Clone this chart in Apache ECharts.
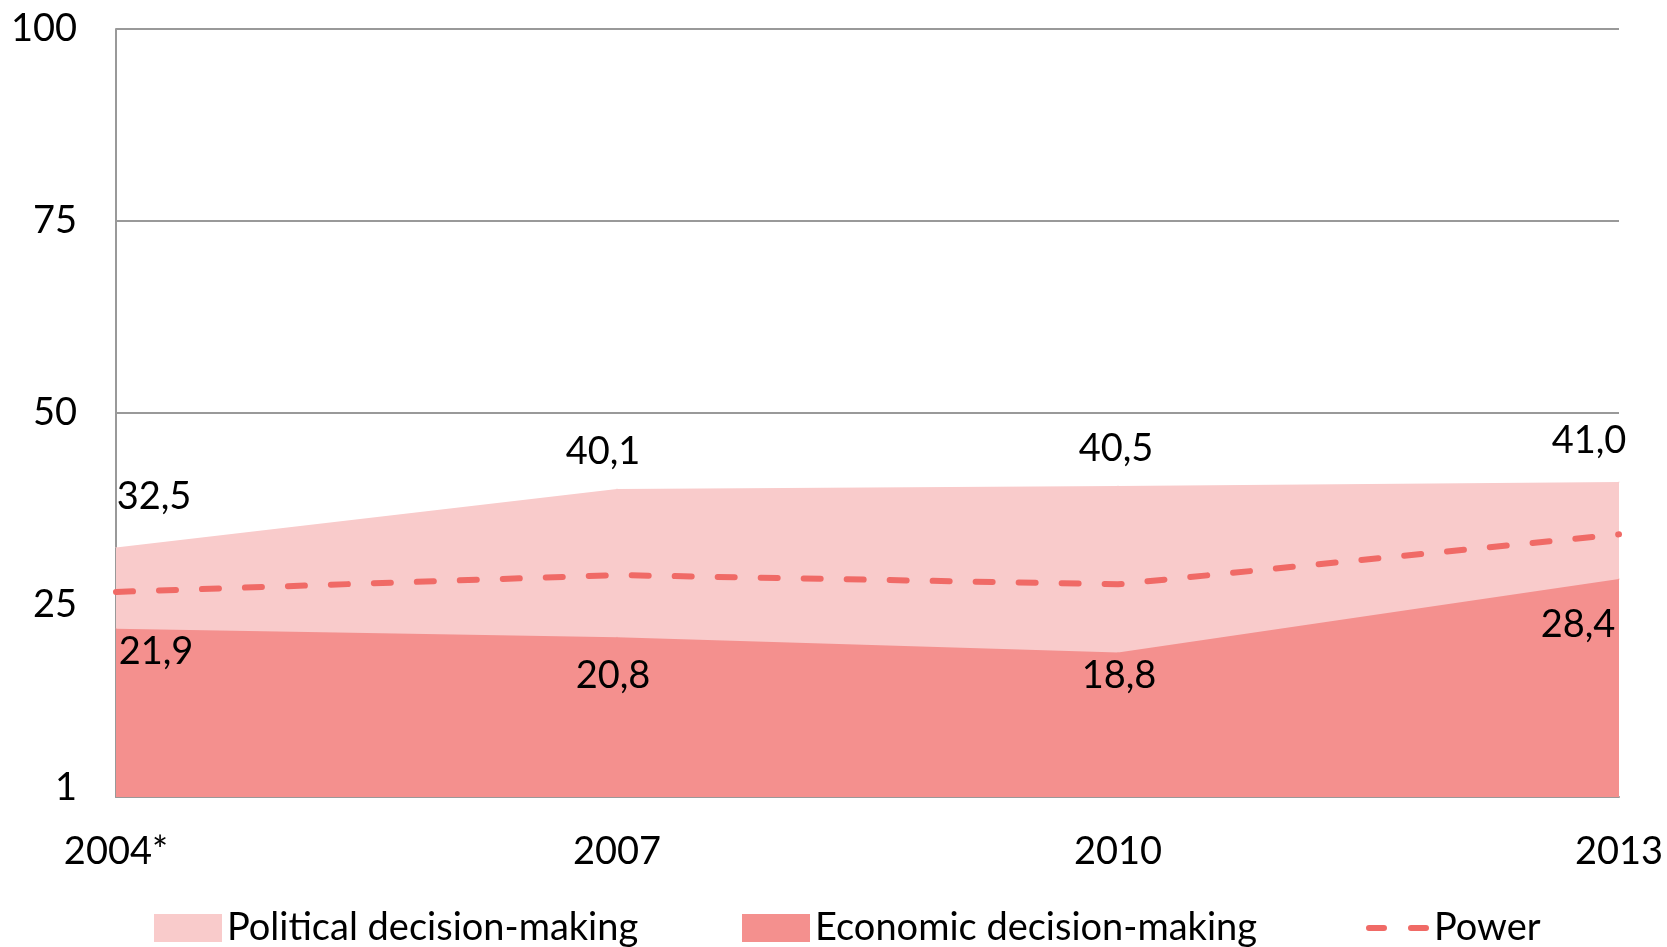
<!DOCTYPE html>
<html>
<head>
<meta charset="utf-8">
<script src="https://cdn.jsdelivr.net/npm/echarts@6/dist/echarts.min.js"></script>
<style>
  html, body { margin: 0; padding: 0; background: #fff; }
  #main { width: 1667px; height: 947px; }
</style>
</head>
<body>
<div id="main"></div>
<script>
var years = ['2004*', '2007', '2010', '2013'];
var political = [32.5, 40.1, 40.5, 41.0];
var economic = [21.9, 20.8, 18.8, 28.4];
var power = [26.7, 28.9, 27.7, 34.2];
var yTickLabels = { 0: '1', 25: '25', 50: '50', 75: '75', 100: '100' };

// label offsets relative to each point (pixels)
var politicalOffsets = [[38, -51], [-14, -37], [-2, -37], [-30, -41]];
var economicOffsets = [[40, 23], [-4, 38], [1, 23], [-41, 46]];

var FONT = 'Lato';
var FS = 38;
var lightPink = '#f9cbcb';
var midPink = '#f4908e';
var red = '#f06a66';

// two rounded dashes for the Power legend key (63x28 box, flat tiny marks pin the box)
var dashIcon = 'path://M0,0L0.01,0Z M0,28L0.01,28Z' +
    'M3,11H18A3,3 0 0 1 18,17H3A3,3 0 0 1 3,11Z' +
    'M45,11H60A3,3 0 0 1 60,17H45A3,3 0 0 1 45,11Z';

function fmt(v) {
    return v.toFixed(1).replace('.', ',');
}

function withLabels(values, offsets) {
    return values.map(function (v, i) {
        return {
            value: v,
            label: { offset: offsets[i] }
        };
    });
}

var chart = echarts.init(document.getElementById('main'));

var legendText = { fontFamily: FONT, fontSize: FS, color: '#000' };

chart.setOption({
    animation: false,
    textStyle: { fontFamily: FONT },
    grid: { left: 116, right: 48, top: 29, bottom: 150 },
    legend: [
        {
            left: 149, top: 904,
            data: [{ name: 'Political decision-making', icon: 'rect' }],
            itemWidth: 68, itemHeight: 28,
            textStyle: legendText
        },
        {
            left: 737, top: 904,
            data: [{ name: 'Economic decision-making', icon: 'rect' }],
            itemWidth: 68, itemHeight: 28,
            textStyle: legendText
        },
        {
            left: 1361, top: 904,
            data: [{ name: 'Power', icon: dashIcon }],
            itemWidth: 63, itemHeight: 28,
            textStyle: legendText
        }
    ],
    xAxis: {
        type: 'category',
        data: years,
        boundaryGap: false,
        axisLine: { lineStyle: { color: '#999', width: 2 } },
        axisTick: { show: false },
        axisLabel: { fontFamily: FONT, fontSize: FS, color: '#000', margin: 36 }
    },
    yAxis: {
        type: 'value',
        min: 0,
        max: 100,
        interval: 25,
        axisLine: { show: true, lineStyle: { color: '#999', width: 2 } },
        axisTick: { show: false },
        splitLine: { lineStyle: { color: '#999', width: 2 } },
        axisLabel: {
            fontFamily: FONT, fontSize: FS, color: '#000', margin: 39,
            formatter: function (v) {
                return v === 0 ? '{low|' + yTickLabels[v] + '}' : yTickLabels[v];
            },
            rich: {
                low: { fontFamily: FONT, fontSize: FS, color: '#000', padding: [0, 0, 18, 0] }
            }
        }
    },
    series: [
        {
            name: 'Political decision-making',
            type: 'line',
            data: withLabels(political, politicalOffsets),
            symbol: 'circle',
            symbolSize: 1,
            itemStyle: { color: lightPink },
            lineStyle: { width: 0 },
            areaStyle: { color: lightPink, opacity: 1 },
            label: {
                show: true,
                position: 'inside',
                fontFamily: FONT, fontSize: FS, color: '#000',
                formatter: function (p) { return fmt(p.value); }
            },
            z: 1
        },
        {
            name: 'Economic decision-making',
            type: 'line',
            data: withLabels(economic, economicOffsets),
            symbol: 'circle',
            symbolSize: 1,
            itemStyle: { color: midPink },
            lineStyle: { width: 0 },
            areaStyle: { color: midPink, opacity: 1 },
            label: {
                show: true,
                position: 'inside',
                fontFamily: FONT, fontSize: FS, color: '#000',
                formatter: function (p) { return fmt(p.value); }
            },
            z: 2
        },
        {
            name: 'Power',
            type: 'line',
            data: power,
            symbol: 'none',
            itemStyle: { color: red },
            lineStyle: { color: red, width: 6, type: [17, 26], cap: 'round' },
            z: 3
        }
    ]
});
</script>
</body>
</html>
